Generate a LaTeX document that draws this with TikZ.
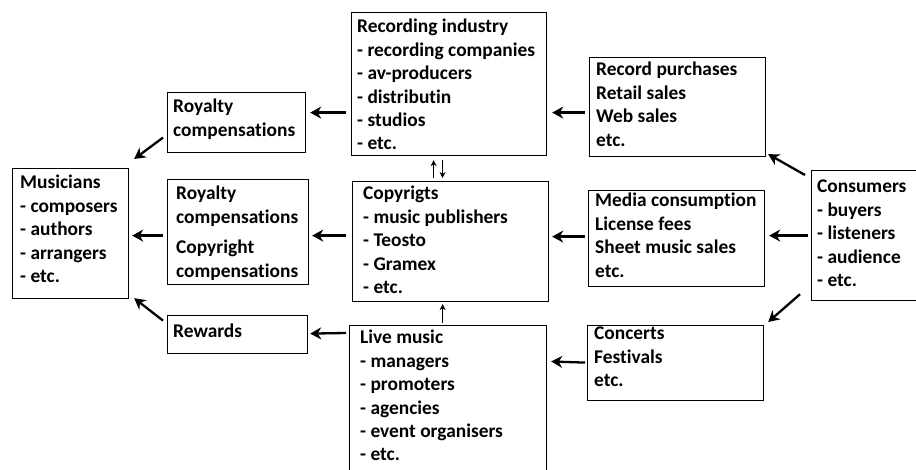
\documentclass[tikz,border=0pt]{standalone}
\usepackage{fontspec}
\setmainfont{Carlito}[Ligatures={NoCommon}]
\usetikzlibrary{arrows.meta,calc}
\newcommand\lns[1]{\begin{tabular}[t]{@{}l@{}}#1\end{tabular}}
\begin{document}
\begin{tikzpicture}[x=1pt,y=-1pt,
  frame/.style={draw=black,line width=1.2pt,rectangle,inner sep=0pt,anchor=north west},
  txt/.style={anchor=base west,inner sep=0pt,font=\fontsize{19.4}{23.4}\selectfont\bfseries},
  arr/.style={line width=2.3pt,-{Stealth[length=11pt,width=12pt,inset=3.5pt]}},
  thin/.style={line width=1.3pt,-{Stealth[length=6pt,width=6pt,inset=2pt]}}]
\useasboundingbox (0,0) rectangle (916,470);
\begin{scope}
\clip (0,0) rectangle (916,470);
% boxes
\node[frame,minimum width=195pt,minimum height=143pt] (rec) at (351,12) {};
\node[frame,minimum width=196pt,minimum height=120pt] (cop) at (352,181) {};
\node[frame,minimum width=197pt,minimum height=155pt] (live) at (349,325) {};
\node[frame,minimum width=138pt,minimum height=60pt] (roy1) at (167,92) {};
\node[frame,minimum width=141pt,minimum height=105pt] (roy2) at (167,179) {};
\node[frame,minimum width=140pt,minimum height=38pt] (rew) at (167,315) {};
\node[frame,minimum width=116pt,minimum height=130pt] (mus) at (12,168) {};
\node[frame,minimum width=176pt,minimum height=99pt] (rp) at (589,57) {};
\node[frame,minimum width=176pt,minimum height=96pt] (med) at (588,190) {};
\node[frame,minimum width=176pt,minimum height=75pt] (con) at (587,325) {};
\node[frame,minimum width=109pt,minimum height=130pt] (cons) at (811,170) {};
\end{scope}
% texts
\node[txt] (trec) at (357,33) {\lns{Recording industry\\- recording companies\\- av-producers\\- distributin\\- studios\\- etc.}};
\node[txt] (tcop) at (363,200) {\lns{Copyrigts\\- music publishers\\- Teosto\\- Gramex\\- etc.}};
\node[txt] (tlive) at (360,344) {\lns{Live music\\- managers\\- promoters\\- agencies\\- event organisers\\- etc.}};
\node[txt] (troy1) at (173,113) {\lns{Royalty\\compensations}};
\node[txt] (troy2) at (176,200) {\lns{Royalty\\compensations\\[7pt]Copyright\\compensations}};
\node[txt] (trew) at (173,338) {Rewards};
\node[txt] (tmus) at (20,189) {\lns{Musicians\\- composers\\- authors\\- arrangers\\- etc.}};
\node[txt] (trp) at (596,76) {\lns{Record purchases\\Retail sales\\Web sales\\etc.}};
\node[txt] (tmed) at (595,207) {\lns{Media consumption\\License fees\\Sheet music sales\\etc.}};
\node[txt] (tcon) at (594,340) {\lns{Concerts\\Festivals\\etc.}};
\node[txt] (tcons) at (817,193) {\lns{Consumers\\- buyers\\- listeners\\- audience\\- etc.}};
% money flows towards the musicians
\draw[arr] ($(rec.west)+(-5,28.5)$) -- ($(roy1.east)+(4,-10)$);
\draw[arr] ($(cop.west)+(-6,-6)$) -- ($(roy2.east)+(3,3.5)$);
\draw[arr] ($(live.north west)+(-3,8)$) -- ($(rew.east)+(2,-1)$);
\draw[arr] ($(rp.west)+(-4,5.5)$) -- ($(rec.east)+(5,28.5)$);
\draw[arr] ($(med.west)+(-3,-2)$) -- ($(cop.east)+(3,-5)$);
\draw[arr] ($(con.west)+(-2,-0.5)$) -- ($(live.north east)+(4,36.5)$);
\draw[arr] ($(roy1.west)+(-4,15)$) -- ($(mus.north east)+(5,-9)$);
\draw[arr] ($(roy2.west)+(-4,3.5)$) -- ($(mus.east)+(3,2)$);
\draw[arr] ($(rew.west)+(-4,-14)$) -- ($(mus.south east)+(5,-1)$);
\draw[arr] ($(cons.north west)+(-6,5)$) -- ($(rp.south east)+(2,-3)$);
\draw[arr] ($(cons.west)+(-3,0)$) -- ($(med.east)+(4,-3)$);
\draw[arr] ($(cons.south west)+(-11,-7)$) -- ($(con.north east)+(4,-3)$);
% links between the industry boxes
\draw[thin] ($(cop.north)+(-17,-3)$) -- ($(rec.south)+(-15.5,4)$);
\draw[thin] ($(rec.south)+(-6.5,4)$) -- ($(cop.north)+(-8,-3)$);
\draw[thin] ($(live.north)+(-5.5,-2)$) -- ($(cop.south)+(-8,2)$);
\end{tikzpicture}
\end{document}
